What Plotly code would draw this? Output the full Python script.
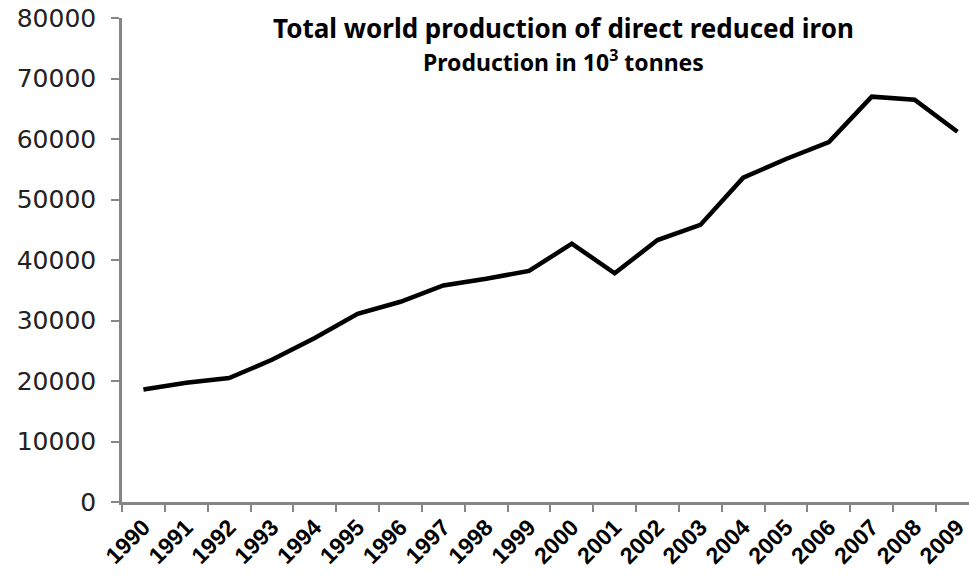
import plotly.graph_objects as go

years = [str(y) for y in range(1990, 2010)]
production = [18600, 19700, 20500, 23500, 27100, 31100, 33100, 35800, 36900, 38200,
              42700, 37800, 43300, 45800, 53600, 56700, 59500, 67000, 66500, 61200]
y_ticks = [0, 10000, 20000, 30000, 40000, 50000, 60000, 70000, 80000]

fig = go.Figure()
fig.add_trace(go.Scatter(x=years, y=production, mode="lines",
                         line=dict(color="black", width=4.5), hoverinfo="x+y"))

axis_col = "#868686"
fig.update_layout(
    width=969, height=575,
    margin=dict(l=122, r=0, t=18, b=73),
    paper_bgcolor="white", plot_bgcolor="white",
    showlegend=False,
    xaxis=dict(type="category", range=[-0.5, 19.27], tickson="boundaries",
               ticks="outside", ticklen=7, tickwidth=2, tickcolor=axis_col,
               showline=True, linecolor=axis_col, linewidth=2.5,
               showgrid=False, tickangle=-45,
               tickfont=dict(family="Liberation Sans", size=23, color="black", weight="bold")),
    yaxis=dict(range=[0, 80000], tickvals=y_ticks, ticktext=[str(v) for v in y_ticks],
               ticks="outside", ticklen=8, tickwidth=2, tickcolor=axis_col,
               showline=True, linecolor=axis_col, linewidth=2.5,
               showgrid=False, zeroline=False, ticklabelstandoff=10,
               tickfont=dict(family="DejaVu Sans", size=25, color="#222222")),
    annotations=[
        dict(text="<b>Total world production of direct reduced iron</b>",
             x=563.5, y=575 - 28, xref="paper", yref="paper", showarrow=False,
             xanchor="center", yanchor="middle",
             font=dict(family="Noto Sans", size=26, color="black")),
        dict(text="<b>Production in 10<sup>3</sup> tonnes</b>",
             x=563.5, y=575 - 61, xref="paper", yref="paper", showarrow=False,
             xanchor="center", yanchor="middle",
             font=dict(family="Noto Sans", size=23, color="black")),
    ],
)
# convert pixel annotation positions into paper coords
plot_l, plot_w = 122, 969 - 122
plot_b, plot_h = 73, 575 - 18 - 73
for a in fig.layout.annotations:
    a.x = (a.x - plot_l) / plot_w
    a.y = (a.y - plot_b) / plot_h

fig.write_html("out.html")
